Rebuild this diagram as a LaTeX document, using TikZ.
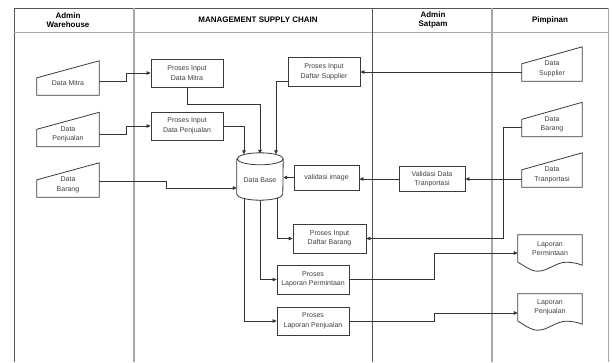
\documentclass[tikz,border=0pt]{standalone}
\usepackage{fontspec}
\setmainfont{Liberation Sans}
\usetikzlibrary{arrows.meta}

\definecolor{boxc}{HTML}{3A3A3A}
\definecolor{txtc}{HTML}{404040}
\definecolor{linec}{HTML}{333333}
\definecolor{lanelight}{HTML}{A8A8A8}
\definecolor{lanedark}{HTML}{555555}

\begin{document}
\begin{tikzpicture}[x=1pt,y=-1pt,
  font=\fontsize{7}{9.4}\selectfont,
  boxline/.style={draw=boxc, line width=0.8pt},
  proc/.style={boxline, align=center, text=txtc, inner sep=1pt},
  manin/.style={minimum width=62pt, minimum height=34pt, inner sep=0pt,
    append after command={\pgfextra{\draw[boxline]
      (\tikzlastnode.south west) -- (\tikzlastnode.south east)
      -- (\tikzlastnode.north east) -- ([yshift=-17pt]\tikzlastnode.north west) -- cycle;}}},
  mantext/.style={label={[yshift=-5pt, align=center, text=txtc]center:#1}},
  docu/.style={minimum width=64pt, minimum height=27pt, inner sep=0pt,
    align=center, text=txtc,
    append after command={\pgfextra{\draw[boxline]
      (\tikzlastnode.south west) -- (\tikzlastnode.north west)
      -- (\tikzlastnode.north east) -- ([yshift=-3pt]\tikzlastnode.south east)
      .. controls +(-5,-2) and +(5,0) .. ([xshift=-16pt]\tikzlastnode.south east)
      .. controls +(-10,0) and +(10,0) .. ([xshift=20pt,yshift=-9pt]\tikzlastnode.south west)
      .. controls +(-8,0) and +(6,3) .. (\tikzlastnode.south west);}}},
  dbase/.style={minimum width=46pt, minimum height=47pt, inner sep=0pt,
    append after command={\pgfextra{\draw[boxline]
      ([yshift=-6pt]\tikzlastnode.north west) -- ([yshift=6pt]\tikzlastnode.south west)
      arc[start angle=180, end angle=360, x radius=23pt, y radius=6pt]
      -- ([yshift=-6pt]\tikzlastnode.north east)
      arc[start angle=0, end angle=180, x radius=23pt, y radius=6pt]
      arc[start angle=180, end angle=360, x radius=23pt, y radius=6pt];}}},
  flow/.style={draw=linec, line width=0.8pt, -{Triangle[length=4pt,width=3.6pt]}},
  hdr/.style={font=\fontsize{8}{9.6}\selectfont\bfseries, align=center}
]
\fill[white] (0,0) rectangle (612,362);
\useasboundingbox (0,0) rectangle (612,362);

% swimlane frame
\draw[lanedark, line width=0.9pt] (14,362) -- (14,8) -- (608,8);
\draw[lanelight, line width=0.9pt] (608,8) -- (608,362);
\draw[lanelight, line width=0.9pt] (14,32) -- (608,32);
\draw[lanelight, line width=1.2pt] (134,8) -- (134,362);
\draw[lanedark, line width=0.7pt] (372,8) -- (372,362);
\draw[lanelight, line width=1.2pt] (492,8) -- (492,362);

% lane titles
\node[hdr] (h1) at (68,20) {Admin\\Warehouse};
\node[hdr] (h2) at (258,20) {MANAGEMENT SUPPLY CHAIN};
\node[hdr] (h3) at (433,20) {Admin\\Satpam};
\node[hdr] (h4) at (550,20) {Pimpinan};

% manual inputs
\node[manin, mantext={Data Mitra}] (dmitra) at (68,78) {};
\node[manin, mantext={Data\\Penjualan}] (dpenj) at (68,129.5) {};
\node[manin, mantext={Data\\Barang}] (dbrg1) at (68,180) {};
\node[manin, minimum width=60pt, mantext={Data\\Supplier}] (dsup) at (552,64) {};
\node[manin, minimum width=60pt, mantext={Data\\Barang}] (dbrg2) at (552,119.5) {};
\node[manin, minimum width=60pt, mantext={Data\\Tranportasi}] (dtrans) at (552,170) {};

% processes
\node[proc, minimum width=72pt, minimum height=28pt] (pidm) at (187,73) {Proses Input\\Data Mitra};
\node[proc, minimum width=72pt, minimum height=28pt] (pidp) at (187,126) {Proses Input\\Data Penjualan};
\node[proc, minimum width=72pt, minimum height=29pt] (pids) at (324,72) {Proses Input\\Daftar Supplier};
\node[proc, minimum width=65pt, minimum height=25pt] (vimg) at (326.5,177.5) {validasi image};
\node[proc, minimum width=66pt, minimum height=25pt] (vdt) at (432,179) {Validasi Data\\Tranportasi};
\node[proc, minimum width=73pt, minimum height=29pt] (pidb) at (329.5,238.5) {Proses Input\\Daftar Barang};
\node[proc, minimum width=72pt, minimum height=29pt] (plpm) at (313,279.5) {Proses\\Laporan Permintaan};
\node[proc, minimum width=72pt, minimum height=28pt] (plpj) at (313,321) {Proses\\Laporan Penjualan};

% database
\node[dbase, label={[yshift=-4pt, text=txtc]center:Data Base}] (db) at (260,176.5) {};

% reports
\node[docu] (lpm) at (550,248.5) {Laporan\\Permintaan};
\node[docu] (lpj) at (550,307.5) {Laporan\\Penjualan};

% flows
\draw[flow] ([yshift=-3pt]dmitra.east) -- ++(27,0) |- (pidm.west);
\draw[flow] ([yshift=-4.5pt]dpenj.east) -- ++(27,0) |- (pidp.west);
\draw[flow] ([yshift=-1pt]dbrg1.east) -- ++(67,0) |- ([yshift=-11.5pt]db.west);
\draw[flow] (pidm.south) -- ++(0,17) -| ([yshift=-1pt]db.north);
\draw[flow] (pidp.east) -| ([xshift=-16pt,yshift=-1.5pt]db.north);
\draw[flow] ([yshift=-9pt]pids.west) -| ([xshift=16pt,yshift=-1.5pt]db.north);
\draw[flow] ([yshift=-8pt]dsup.west) -- ([yshift=-8pt]dsup.west -| pids.east);
\draw[flow] ([yshift=-7.5pt]dbrg2.west) -- ++(-18,0) |- (pidb.east);
\draw[flow] ([yshift=-9pt]dtrans.west) -- (vdt.east);
\draw[flow] (vdt.west) -- (vdt.west -| vimg.east);
\draw[flow] (vimg.west) -- (vimg.west -| db.east);
\draw[flow] ([xshift=17pt,yshift=2pt]db.south) |- (pidb.west);
\draw[flow] (db.south) |- (plpm.west);
\draw[flow] ([xshift=-16pt,yshift=2pt]db.south) |- (plpj.west);
\draw[flow] (plpm.east) -- ++(85,0) |- ([yshift=-4.5pt]lpm.west);
\draw[flow] (plpj.east) -- ++(85,0) |- ([yshift=-5.5pt]lpj.west);
\end{tikzpicture}
\end{document}
